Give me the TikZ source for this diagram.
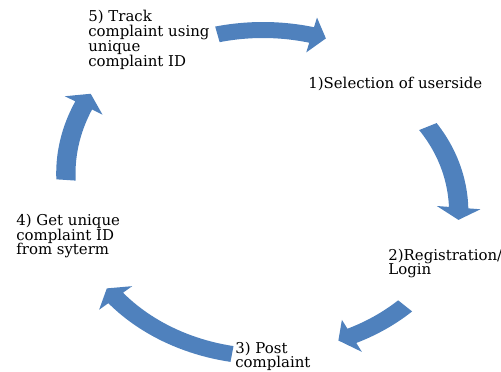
\documentclass[tikz,border=0pt]{standalone}
\usepackage{fontspec}
\setmainfont{DejaVu Serif}
\definecolor{cycleblue}{RGB}{79,129,189}
\newcommand{\lblfont}{\fontsize{8.5}{8.5}\selectfont\setlength{\lineskiplimit}{-6pt}}
\tikzset{
  lbl/.style={anchor=base west, align=left, inner sep=0pt, font=\lblfont},
  declare function={crad(\t)=\cyRa+(\cyRb-\cyRa)*(\t-(\cyA))/((\cyB)-(\cyA));}
}
% curved block arrow: tail angle, tip angle, tail radius, tip radius
\newcommand{\cyclearrow}[4]{%
  \def\cyA{#1}\def\cyB{#2}\def\cyRa{#3}\def\cyRb{#4}%
  \pgfmathsetmacro\cyC{#2+4.3}%
  \fill[cycleblue] plot[domain=\cyA:\cyC, samples=25] (\x:{crad(\x)+8})
    -- (\cyC:{crad(\cyC)+18}) -- (\cyB:\cyRb) -- (\cyC:{crad(\cyC)-18})
    -- plot[domain=\cyC:\cyA, samples=25] (\x:{crad(\x)-8}) -- cycle;
}
\begin{document}
\begin{tikzpicture}[x=0.02cm, y=0.02cm]
  \useasboundingbox (0,0) rectangle (501,372);

  \begin{scope}[shift={(263,179)}, xscale=1.216]
    \cyclearrow{103.3}{71.5}{163}{163}
    \cyclearrow{26.1}{-9.5}{151}{163}
    \cyclearrow{-44}{-67.2}{162.5}{160}
    \cyclearrow{-99}{-143.4}{163}{160}
    \cyclearrow{175.4}{145}{162.5}{173}
  \end{scope}

  % base anchor sits on the last line
  \node[lbl] (usr) at (308,283) {1)Selection of userside};
  \node[lbl] (reg) at (388,97) {2)Registration/\\Login};
  \node[lbl] (post) at (235,4) {3) Post\\complaint};
  \node[lbl] (uid) at (16,117) {4) Get unique\\complaint ID\\from syterm};
  \node[lbl] (track) at (88,305.3) {5) Track\\complaint using\\unique\\complaint ID};
\end{tikzpicture}
\end{document}
